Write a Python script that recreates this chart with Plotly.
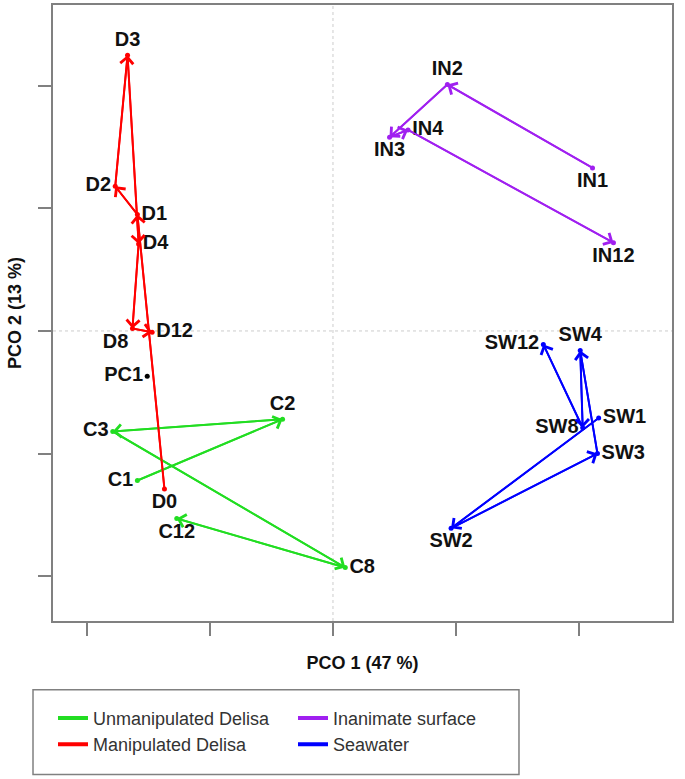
import plotly.graph_objects as go

# ---- data (PCO scores) ----
group_names = ["Unmanipulated Delisa", "Inanimate surface", "Manipulated Delisa", "Seawater"]
group_colors = ["#22dd22", "#a020f0", "#ff0000", "#0000ff"]

c_labels = ["C1", "C2", "C3", "C8", "C12"]
c_x = [-0.159, -0.041, -0.179, 0.010, -0.127]
c_y = [-0.122, -0.072, -0.082, -0.193, -0.153]
c_pos = ["middle left", "top center", "middle left", "middle right", "bottom center"]

in_labels = ["IN1", "IN2", "IN3", "IN4", "IN12"]
in_x = [0.211, 0.093, 0.046, 0.061, 0.228]
in_y = [0.133, 0.201, 0.158, 0.164, 0.072]
in_pos = ["bottom center", "top center", "bottom center", "middle right", "bottom center"]

d_labels = ["D0", "D1", "D2", "D3", "D4", "D8", "D12"]
d_x = [-0.137, -0.159, -0.177, -0.167, -0.158, -0.163, -0.147]
d_y = [-0.129, 0.095, 0.118, 0.225, 0.071, 0.002, -0.001]
d_pos = ["bottom center", "middle right", "middle left", "top center", "middle right", "bottom left", "middle right"]

sw_labels = ["SW1", "SW2", "SW3", "SW4", "SW8", "SW12"]
sw_x = [0.216, 0.096, 0.215, 0.201, 0.203, 0.171]
sw_y = [-0.071, -0.161, -0.100, -0.016, -0.079, -0.011]
sw_pos = ["middle right", "bottom center", "middle right", "top center", "middle left", "middle left"]

pc_label = ["PC1"]
pc_x = [-0.151]
pc_y = [-0.037]

x_ticks = [-0.2, -0.1, 0.0, 0.1, 0.2]
y_ticks = [-0.2, -0.1, 0.0, 0.1, 0.2]
x_title = "PCO 1 (47 %)"
y_title = "PCO 2 (13 %)"

groups = [
    (c_labels, c_x, c_y, c_pos),
    (in_labels, in_x, in_y, in_pos),
    (d_labels, d_x, d_y, d_pos),
    (sw_labels, sw_x, sw_y, sw_pos),
]

FONT = "Liberation Sans, Arial, sans-serif"
label_font = dict(family=FONT, size=20, color="#111111")

fig = go.Figure()
annotations = []
for name, color, (labs, xs, ys, pos) in zip(group_names, group_colors, groups):
    # legend entry (line only)
    fig.add_trace(go.Scatter(
        x=[None], y=[None], mode="lines", name=name,
        line=dict(color=color, width=4),
    ))
    fig.add_trace(go.Scatter(
        x=xs, y=ys, mode="lines+markers+text", name=name,
        showlegend=False,
        text=["<b>%s</b>" % l for l in labs], textposition=pos,
        textfont=label_font,
        line=dict(color=color, width=2),
        marker=dict(color=color, size=5),
    ))
    for i in range(len(xs) - 1):
        annotations.append(dict(
            x=xs[i + 1], y=ys[i + 1], ax=xs[i], ay=ys[i],
            xref="x", yref="y", axref="x", ayref="y",
            text="", showarrow=True, arrowhead=4, arrowsize=1.4,
            arrowwidth=1.8, arrowcolor=color, standoff=0,
        ))

fig.add_trace(go.Scatter(
    x=pc_x, y=pc_y, mode="markers+text", showlegend=False,
    text=["<b>%s</b>" % l for l in pc_label], textposition="middle left",
    textfont=label_font, marker=dict(color="black", size=5),
))

axis_common = dict(
    showgrid=False, zeroline=False, showline=True, mirror=True,
    linecolor="#808080", linewidth=2, ticks="outside", ticklen=13,
    tickwidth=1.5, tickcolor="#808080", showticklabels=False,
    title_font=dict(family=FONT, size=18, color="#111111"),
)

fig.update_xaxes(range=[-0.2276, 0.2756], tickvals=x_ticks,
                 title_text="<b>%s</b>" % x_title, title_standoff=21, **axis_common)
fig.update_yaxes(range=[-0.2366, 0.2659], tickvals=y_ticks,
                 title_text="<b>%s</b>" % y_title, title_standoff=12, **axis_common)

shapes = [
    dict(type="line", xref="x", yref="paper", x0=0, x1=0, y0=0, y1=1,
         line=dict(color="#cccccc", width=1, dash="dot"), layer="below"),
    dict(type="line", xref="paper", yref="y", x0=0, x1=1, y0=0, y1=0,
         line=dict(color="#cccccc", width=1, dash="dot"), layer="below"),
    # legend frame
    dict(type="rect", xref="paper", yref="paper",
         x0=-0.0323, x1=0.7528, y0=-0.2492, y1=-0.1117,
         line=dict(color="#808080", width=1.5), fillcolor="rgba(0,0,0,0)"),
]

fig.update_layout(
    width=685, height=779,
    margin=dict(l=53, r=13, t=3, b=158),
    plot_bgcolor="white", paper_bgcolor="white",
    shapes=shapes, annotations=annotations,
    hovermode=False,
    legend=dict(
        orientation="h", x=0.0, y=-0.1278, xanchor="left", yanchor="top",
        entrywidth=195, entrywidthmode="pixels", tracegroupgap=0,
        borderwidth=0, bgcolor="rgba(0,0,0,0)",
        font=dict(family=FONT, size=18, color="#333333"),
    ),
)

fig.write_html("out.html", config={"displayModeBar": False},
               post_script="document.body.style.margin='0px';")
